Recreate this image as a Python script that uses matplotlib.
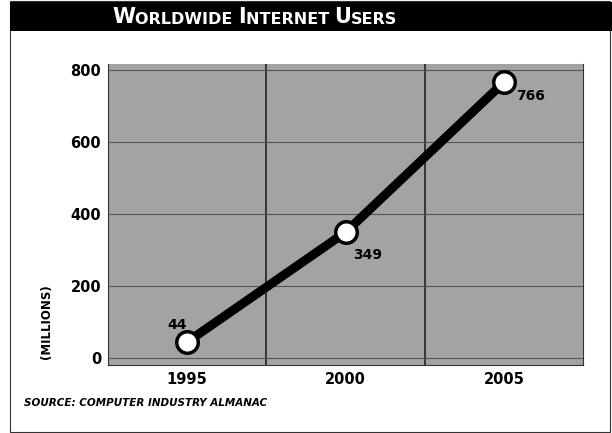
import matplotlib.pyplot as plt
from matplotlib.patches import Rectangle
from matplotlib.text import Annotation

# data
years = [1995, 2000, 2005]
users = [44, 349, 766]
yticks = [0, 200, 400, 600, 800]
title_parts = [("W", 15), ("ORLDWIDE ", 11.5), ("I", 15), ("NTERNET ", 11.5), ("U", 15), ("SERS", 11.5)]
source = "SOURCE: COMPUTER INDUSTRY ALMANAC"

fig = plt.figure(figsize=(6.12, 4.33), dpi=100)
fig.patch.set_facecolor("white")

# outer frame and black title banner
fig.patches.append(Rectangle((10 / 612, 0.002), 600 / 612, 0.996, transform=fig.transFigure,
                             fill=False, edgecolor="#333333", linewidth=0.8))
fig.patches.append(Rectangle((10 / 612, 1 - 31 / 433), 602 / 612, 29 / 433, transform=fig.transFigure,
                             facecolor="black", edgecolor="none"))

# small caps title, chained piece after piece
txt, size = title_parts[0]
prev = fig.text(112 / 612, 1 - 27 / 433, txt, color="white", fontsize=size,
                fontweight="bold", va="bottom", ha="left")
for txt, size in title_parts[1:]:
    prev = fig.add_artist(Annotation(txt, xy=(1, 0), xycoords=prev, va="bottom", ha="left",
                                     color="white", fontsize=size, fontweight="bold"))

ax = fig.add_axes([108 / 612, 68 / 433, 475 / 612, 301 / 433])
ax.set_facecolor("#a3a3a3")

ax.plot(years, users, color="black", linewidth=6.5, solid_capstyle="round", zorder=3,
        marker="o", markersize=15.5, markerfacecolor="white", markeredgecolor="black",
        markeredgewidth=2.5)

offsets = [(-7, 12), (16, -16), (19, -10)]
for x, y, off in zip(years, users, offsets):
    ax.annotate(str(y), (x, y), xytext=off, textcoords="offset points",
                ha="center", va="center", fontsize=10, fontweight="bold", zorder=4)

ax.set_xlim(1992.5, 2007.5)
ax.set_ylim(-20, 817)
ax.set_xticks(years)
ax.set_yticks(yticks)
ax.set_xticks([1997.5, 2002.5], minor=True)
ax.tick_params(which="both", length=0)
ax.tick_params(axis="both", labelsize=10.5, pad=5)
for lab in ax.get_xticklabels() + ax.get_yticklabels():
    lab.set_fontweight("bold")
ax.grid(True, axis="x", which="minor", color="#222222", linewidth=1.2)
ax.grid(True, axis="y", which="major", color="#555555", linewidth=0.8)
for s in ax.spines.values():
    s.set_color("#333333")
    s.set_linewidth(0.8)
ax.spines["top"].set_visible(False)

fig.text(47 / 612, 1 - 322 / 433, "(MILLIONS)", rotation=90, ha="center", va="center",
         fontsize=8.5, fontweight="bold")
fig.text(24 / 612, 1 - 403 / 433, source, ha="left", va="center", fontsize=7.5,
         fontweight="bold", fontstyle="italic")

fig.savefig("out.png", dpi=100)
